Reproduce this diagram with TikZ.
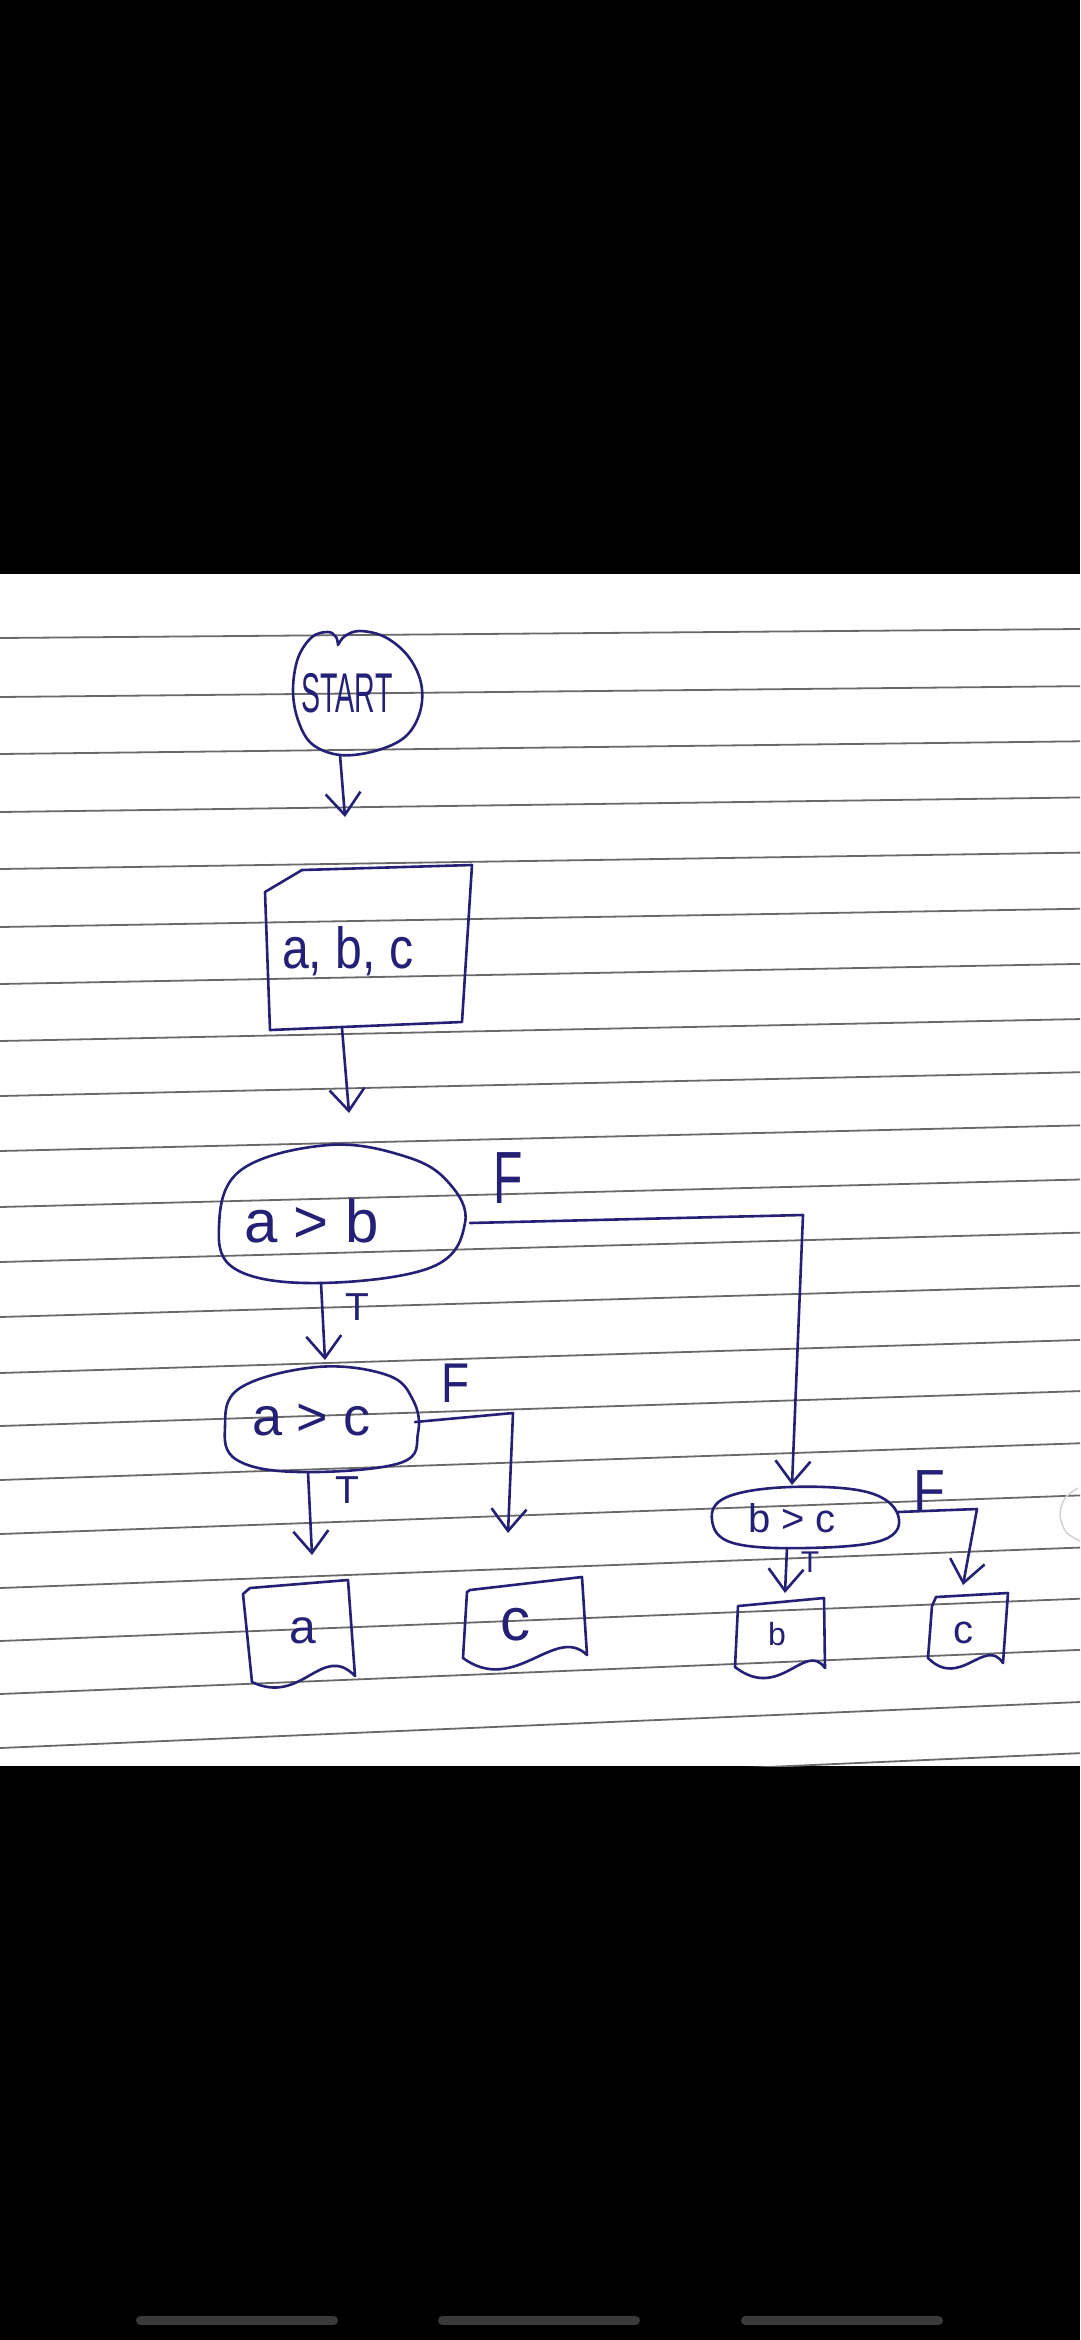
\documentclass[tikz,border=0pt]{standalone}
\usepackage{fontspec}
\usepackage{graphicx}
\setmainfont{Liberation Sans}
\usetikzlibrary{arrows.meta}
\definecolor{ink}{RGB}{35,32,118}
\definecolor{rulegray}{RGB}{105,105,105}
\definecolor{navbar}{RGB}{58,58,58}
\begin{document}
\begin{tikzpicture}[x=1pt,y=-1pt,
  pen/.style={draw=ink, line width=2.6pt, line join=round, line cap=round},
  flow/.style={pen, -{Straight Barb[length=22pt,width=35pt]}},
  ruling/.style={draw=rulegray, line width=1.8pt},
  hand/.style={text=ink, inner sep=0pt, outer sep=0pt},
]
\useasboundingbox (0,0) rectangle (1080,2340);
% background: phone screenshot bars and paper
\fill[black] (0,0) rectangle (1080,574);
\fill[white] (0,574) rectangle (1080,1766);
\fill[black] (0,1766) rectangle (1080,2340);
\foreach \xa/\xb in {140.5/333.5, 442.5/635.5, 745.5/938.5}
  \draw[navbar, line width=9pt, line cap=round] (\xa,2320.5) -- (\xb,2320.5);
% ruled lines of the paper
\begin{scope}
\clip (0,574) rectangle (1080,1766);
\foreach \ly [count=\i from 0] in {638,697,754,812,869,927,984,1041,1096,1151,1207,1262,1317,1373,1426,1480,1534,1588,1641,1694,1748,1801} {
  \pgfmathsetmacro\ry{\ly-9-1.85*\i}
  \draw[ruling] (0,\ly) -- (1080,\ry);
}
\draw[gray!35, line width=1.5pt] plot[smooth] coordinates {(1078,1488) (1065,1498) (1060,1515) (1066,1532) (1080,1541)};
\end{scope}

% ---------- START ----------
\draw[pen] plot[smooth, tension=0.6] coordinates {(338,645) (345,636) (360,631) (385,637) (408,656) (421,683) (420,712) (405,737) (375,751) (340,755) (312,744) (298,720) (293,690) (298,658) (312,637) (328,632) (336,637) (338,645)};
\node[hand, font=\fontsize{56}{60}\selectfont] (start) at (347,693) {\scalebox{0.51}[1]{START}};
\coordinate (start-s) at (340,755);
\coordinate (in-n) at (345,817);
\draw[flow] (start-s) -- (in-n);

% ---------- input a, b, c ----------
\draw[pen] (265,892) -- (302,870) -- (472,865) -- (462,1022) -- (270,1030) -- cycle;
\node[hand, anchor=base west, font=\fontsize{58}{60}\selectfont] (input) at (282,968) {\scalebox{0.83}[1]{a, b, c}};
\coordinate (in-s) at (342,1028);
\coordinate (ab-n) at (349,1113);
\draw[flow] (in-s) -- (ab-n);

% ---------- decision a > b ----------
\draw[pen] plot[smooth cycle, tension=0.65] coordinates {(329,1145) (407,1157) (449,1183) (465,1223) (432,1267) (320,1283) (237,1270) (219,1227) (241,1170)};
\node[hand, anchor=base west, font=\fontsize{60}{62}\selectfont] (ab) at (244,1242) {a > b};
\node[hand, anchor=base, font=\fontsize{74}{76}\selectfont] (abF) at (508,1203) {\scalebox{0.65}[1]{F}};
\node[hand, anchor=base, font=\fontsize{39}{40}\selectfont] (abT) at (357,1320) {T};
\coordinate (ab-s) at (321,1283);
\coordinate (ac-n) at (325,1360);
\draw[flow] (ab-s) -- (ac-n);
\coordinate (ab-e) at (470,1223);
\coordinate (ab-fc) at (803,1215);
\coordinate (bc-n) at (792,1485);
\draw[flow] (ab-e) -- (ab-fc) -- (bc-n);

% ---------- decision a > c ----------
\draw[pen] plot[smooth cycle, tension=0.65] coordinates {(317,1367) (387,1375) (413,1400) (418,1433) (400,1463) (300,1472) (237,1460) (225,1427) (240,1388)};
\node[hand, anchor=base west, font=\fontsize{54}{56}\selectfont] (ac) at (252,1435) {a > c};
\node[hand, anchor=base, font=\fontsize{56}{58}\selectfont] (acF) at (456,1402) {\scalebox{0.82}[1]{F}};
\node[hand, anchor=base, font=\fontsize{39}{40}\selectfont] (acT) at (347,1503) {T};
\coordinate (ac-s) at (308,1472);
\coordinate (oa-n) at (312,1555);
\draw[flow] (ac-s) -- (oa-n);
\coordinate (ac-e) at (415,1422);
\coordinate (ac-fc) at (513,1413);
\coordinate (oc-n) at (508,1533);
\draw[flow] (ac-e) -- (ac-fc) -- (oc-n);

% ---------- output a ----------
\draw[pen] (250,1588) -- (348,1580) -- (355,1676) .. controls (322,1642) and (302,1706) .. (252,1682) -- (243,1594) -- cycle;
\node[hand, anchor=base, font=\fontsize{48}{50}\selectfont] (outa) at (303,1643) {a};

% ---------- output c (left) ----------
\draw[pen] (470,1590) -- (582,1577) -- (587,1655) .. controls (555,1624) and (515,1696) .. (463,1658) -- (467,1592) -- cycle;
\node[hand, anchor=base, font=\fontsize{60}{62}\selectfont] (outc) at (515,1640) {c};

% ---------- decision b > c ----------
\draw[pen] plot[smooth cycle, tension=0.65] coordinates {(790,1487) (867,1492) (898,1515) (883,1540) (807,1548) (733,1543) (712,1520) (727,1497)};
\node[hand, anchor=base west, font=\fontsize{40}{42}\selectfont] (bc) at (748,1532) {b > c};
\node[hand, anchor=base, font=\fontsize{58}{60}\selectfont] (bcF) at (929,1510) {\scalebox{0.9}[1]{F}};
\node[hand, anchor=base, font=\fontsize{30}{32}\selectfont] (bcT) at (810,1572) {T};
\coordinate (bc-s) at (787,1548);
\coordinate (ob-n) at (785,1593);
\draw[flow] (bc-s) -- (ob-n);
\coordinate (bc-e) at (898,1512);
\coordinate (bc-fc) at (977,1509);
\coordinate (oc2-n) at (963,1585);
\draw[flow] (bc-e) -- (bc-fc) -- (oc2-n);

% ---------- output b ----------
\draw[pen] (738,1606) -- (824,1598) -- (825,1668) .. controls (805,1640) and (780,1702) .. (735,1667) -- cycle;
\node[hand, anchor=base, font=\fontsize{32}{34}\selectfont] (outb) at (777,1645) {b};

% ---------- output c (right) ----------
\draw[pen] (936,1597) -- (1008,1593) -- (1003,1663) .. controls (985,1636) and (960,1690) .. (928,1658) -- (932,1606) -- cycle;
\node[hand, anchor=base, font=\fontsize{40}{42}\selectfont] (outc2) at (963,1643) {c};
\end{tikzpicture}
\end{document}
